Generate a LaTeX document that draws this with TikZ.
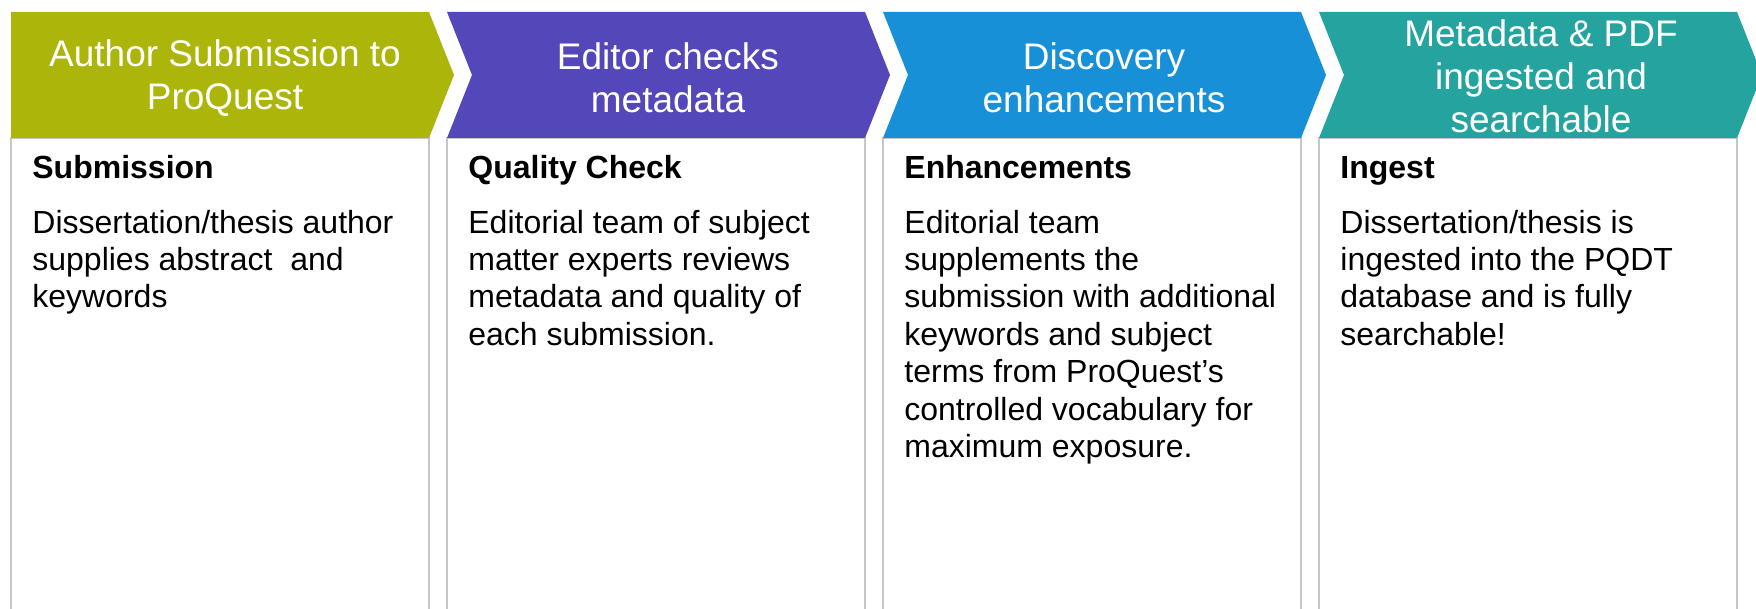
\documentclass[tikz,border=0pt]{standalone}
\usepackage{fontspec}
\setmainfont{Liberation Sans}
\definecolor{stepgreen}{HTML}{ABB50A}
\definecolor{steppurple}{HTML}{5347B9}
\definecolor{stepblue}{HTML}{1890D8}
\definecolor{stepteal}{HTML}{25A39F}
\definecolor{panelgrey}{HTML}{C6C6C6}
\tikzset{
  headtext/.style={text=white, align=center, inner sep=0pt, font=\fontsize{18.5}{21.5}\selectfont},
  titletext/.style={anchor=base west, inner sep=0pt, font=\fontsize{16}{19}\selectfont\bfseries},
  bodytext/.style={anchor=north west, align=left, inner sep=0pt, font=\fontsize{16}{18.7}\selectfont},
  panel/.style={draw=panelgrey, line width=1pt}
}
\begin{document}
\begin{tikzpicture}[x=0.5pt,y=-0.5pt]
    \useasboundingbox (0,0) rectangle (1756,609);
    % panels under the arrows
    \draw [panel] (11,640) -- (11,138) -- (429,138) -- (429,640);
    \draw [panel] (447,640) -- (447,138) -- (865,138) -- (865,640);
    \draw [panel] (883,640) -- (883,138) -- (1301,138) -- (1301,640);
    \draw [panel] (1319,640) -- (1319,138) -- (1737,138) -- (1737,640);
    % arrows
    \fill [stepgreen] (11,12) -- (429,12) -- (454,75) -- (429,138) -- (11,138) -- cycle;
    \fill [steppurple] (447,12) -- (865,12) -- (890,75) -- (865,138) -- (447,138) -- (472,75) -- cycle;
    \fill [stepblue] (883,12) -- (1301,12) -- (1326,75) -- (1301,138) -- (883,138) -- (908,75) -- cycle;
    \fill [stepteal] (1319,12) -- (1737,12) -- (1762,75) -- (1737,138) -- (1319,138) -- (1344,75) -- cycle;
    \node [headtext] (h1) at (225,78) {Author Submission to\\ProQuest};
    \node [headtext] (h2) at (668,78) {Editor checks\\metadata};
    \node [headtext] (h3) at (1104,78) {Discovery\\enhancements};
    \node [headtext] (h4) at (1541,76) {Metadata \& PDF\\ingested and\\searchable};
    % panel texts
    \node [titletext] (t1) at (32,179) {Submission};
    \node [bodytext] (b1) at (32,209.5) {Dissertation/thesis author\\supplies abstract\ \ and\\keywords};
    \node [titletext] (t2) at (468,179) {Quality Check};
    \node [bodytext] (b2) at (468,209.5) {Editorial team of subject\\matter experts reviews\\metadata and quality of\\each submission.};
    \node [titletext] (t3) at (904,179) {Enhancements};
    \node [bodytext] (b3) at (904,209.5) {Editorial team\\supplements the\\submission with additional\\keywords and subject\\terms from ProQuest’s\\controlled vocabulary for\\maximum exposure.};
    \node [titletext] (t4) at (1340,179) {Ingest};
    \node [bodytext] (b4) at (1340,209.5) {Dissertation/thesis is\\ingested into the PQDT\\database and is fully\\searchable!};
\end{tikzpicture}
\end{document}
